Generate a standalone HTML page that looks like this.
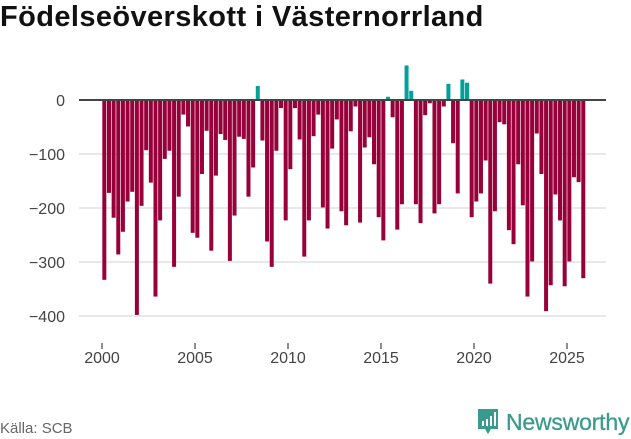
<!DOCTYPE html>
<html><head><meta charset="utf-8"><style>
body{margin:0;width:631px;height:439px;background:#fff;font-family:"Liberation Sans",sans-serif;overflow:hidden;position:relative}
#title{position:absolute;left:0;top:1px;font-size:29px;font-weight:bold;color:#111;letter-spacing:0.4px}
#src{position:absolute;left:0;top:420px;font-size:15px;color:#666}
#logo{position:absolute;left:476px;top:407px;display:flex;align-items:center}
#logo span{font-size:23px;color:#3a9a8e;margin-left:6px;letter-spacing:-0.2px;-webkit-text-stroke:0.3px #3a9a8e}
</style></head><body>
<div id="title">Födelseöverskott i Västernorrland</div>
<svg id="chart" width="631" height="439" style="position:absolute;left:0;top:0"></svg>
<div id="src">Källa: SCB</div>
<div id="logo">
<svg width="24" height="30" viewBox="0 0 24 30"><path d="M2 2h20v20h-7l-3 5-3-5H2z" fill="#3a9a8e"/><rect x="6" y="14" width="2" height="5" fill="#fff"/><rect x="10" y="12" width="2" height="7" fill="#fff"/><rect x="14" y="9" width="2" height="10" fill="#fff"/><rect x="18" y="5" width="2" height="14" fill="#fff"/></svg>
<span>Newsworthy</span></div>
<script>
const startYear = 2000;
const values = [-333,-172,-218,-286,-244,-188,-170,-398,-196,-93,-153,-364,-223,-109,-94,-309,-179,-27,-49,-246,-255,-137,-57,-279,-140,-63,-74,-298,-214,-68,-72,-179,-125,26,-75,-262,-309,-94,-15,-223,-128,-15,-73,-290,-223,-67,-27,-199,-238,-90,-36,-206,-232,-58,-12,-227,-88,-69,-119,-217,-260,6,-32,-240,-193,64,17,-193,-228,-28,-6,-210,-193,-12,30,-80,-173,38,32,-217,-188,-173,-112,-340,-206,-41,-45,-241,-267,-119,-195,-364,-299,-62,-137,-391,-343,-175,-223,-345,-299,-143,-152,-330];
const yTicks = [0,-100,-200,-300,-400];
const xTicks = [2000,2005,2010,2015,2020,2025];
const NS="http://www.w3.org/2000/svg", svg=document.getElementById('chart');
const y = v => 100 - v*0.54;
const x = t => 102 + (t-2000)*18.6;
function el(tag, a){const e=document.createElementNS(NS,tag);for(const k in a)e.setAttribute(k,a[k]);svg.appendChild(e);return e;}
yTicks.forEach(t=>{
  if(t!==0){const g=el('line',{x1:79,x2:606,y1:y(t),y2:y(t),stroke:'#e0e0e0','stroke-width':1.5});
  
  }
  const l=el('text',{x:65,y:y(t)+6,'text-anchor':'end','font-size':16,fill:'#444','font-family':'Liberation Sans, sans-serif'});
  l.textContent=t===0?'0':'\u2212'+(-t);
  
  
});
values.forEach((v,i)=>{
  const cx=x(startYear+(i+0.5)/4);
  const r=el('rect',{x:cx-2,width:4,y:Math.min(y(0),y(v)),height:Math.abs(y(v)-y(0)),fill:v>=0?'#00a19a':'#98003a'});
  
  
});
const z=el('line',{x1:79,x2:606,y1:y(0),y2:y(0),stroke:'#444','stroke-width':2});


xTicks.forEach(t=>{
  const tk=el('line',{x1:x(t),x2:x(t),y1:343,y2:349,stroke:'#444','stroke-width':1.2});
  
  
  const l=el('text',{x:x(t),y:363,'text-anchor':'middle','font-size':16,fill:'#444','font-family':'Liberation Sans, sans-serif'});
  l.textContent=t;
  
  
});
</script>
</body></html>
